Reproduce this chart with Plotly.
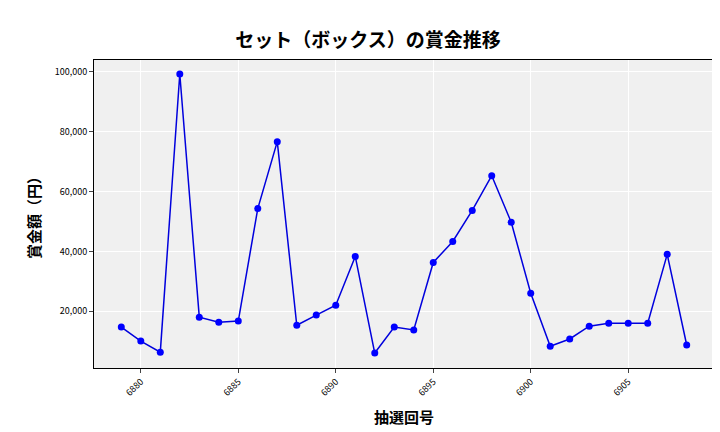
import plotly.graph_objects as go

draws = list(range(6879, 6909))
prizes = [14700, 10000, 6300, 99300, 18000, 16300, 16700, 54300, 76700, 15300,
          18700, 22000, 38300, 6000, 14700, 13700, 36300, 43300, 53700, 65300,
          49700, 26000, 8300, 10700, 15000, 16000, 16000, 16000, 39000, 8700]
tick_vals = [6880, 6885, 6890, 6895, 6900, 6905]
y_ticks = [20000, 40000, 60000, 80000, 100000]

font = "Noto Sans CJK JP"

fig = go.Figure(go.Scatter(
    x=draws, y=prizes, mode="lines+markers",
    line=dict(color="#0000dd", width=1.5),
    marker=dict(color="#0000ff", size=7),
))
fig.update_layout(
    width=720, height=432,
    margin=dict(l=86, r=14, t=52, b=72),
    paper_bgcolor="white", plot_bgcolor="#f0f0f0",
    font=dict(family=font, color="black"),
    title=dict(text="<b>セット（ボックス）の賞金推移</b>", x=0.5, xanchor="center",
               y=0.94, font=dict(size=19, family=font)),
    showlegend=False,
)
fig.update_xaxes(
    title=dict(text="<b>抽選回号</b>", font=dict(size=15), standoff=14),
    tickvals=tick_vals, tickangle=-45, tickfont=dict(size=9),
    range=[6877.6, 6909.4], gridcolor="white", zeroline=False, automargin=False,
    showline=True, mirror=True, linecolor="black", ticks="outside", ticklen=4,
)
fig.update_yaxes(
    title=dict(text="<b>賞金額（円）</b>", font=dict(size=15), standoff=10),
    tickvals=y_ticks, tickformat=",", tickfont=dict(size=9),
    range=[1000, 104000], gridcolor="white", zeroline=False, automargin=False,
    showline=True, mirror=True, linecolor="black", ticks="outside", ticklen=4,
)
fig.write_html("out.html")
